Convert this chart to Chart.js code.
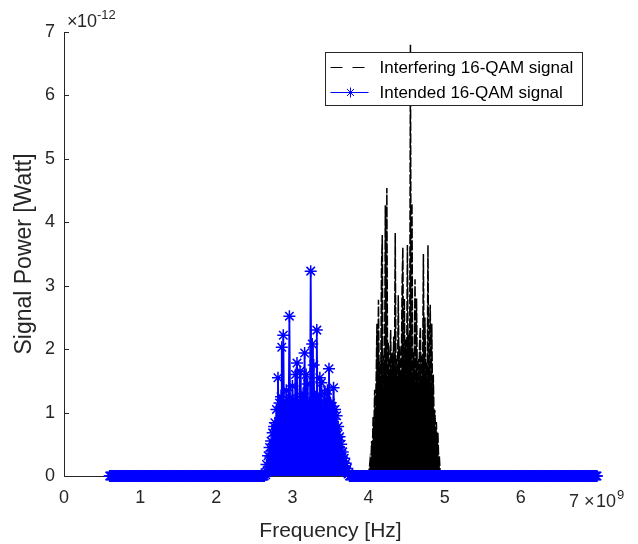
<!DOCTYPE html>
<html>
<head>
<meta charset="utf-8">
<script src="https://cdn.jsdelivr.net/npm/chart.js@4.4.1/dist/chart.umd.min.js"></script>
<style>
  html, body { margin: 0; padding: 0; background: #fff; }
</style>
</head>
<body>
<canvas id="chart-psd" width="638" height="544"></canvas>
<script>
// frequency axis in GHz (x 10^9 Hz), power in units of 10^-12 W
var xTicks = [0, 1, 2, 3, 4, 5, 6, 7];
var yTicks = [0, 1, 2, 3, 4, 5, 6, 7];
var seriesLabels = ['Interfering 16-QAM signal', 'Intended 16-QAM signal'];
var sampleStepGHz = 0.01;

// interfering signal, samples from 3.96 GHz
var interferingStartGHz = 3.96;
var interferingPower = [
  0, 0, 0, 0, 0.05, 0.12, 0.25, 0.15, 0.55, 0.4,
  0.93, 0.7, 1.36, 1.0, 1.55, 2.4, 1.3, 2.78, 1.4, 1.8,
  1.5, 3.3, 3.8, 1.35, 1.9, 1.45, 4.27, 1.6, 4.54, 1.4,
  2.1, 1.5, 1.75, 2.3, 1.35, 1.95, 1.6, 2.2, 1.45, 3.83,
  1.55, 1.85, 1.4, 2.85, 1.65, 2.05, 1.5, 1.7, 3.0, 3.6,
  1.5, 2.8, 1.45, 2.15, 1.6, 3.64, 1.5, 2.25, 1.7, 6.8,
  1.55, 4.3, 1.45, 1.95, 1.6, 3.1, 1.4, 2.8, 1.55, 1.85,
  1.35, 2.1, 2.35, 1.5, 1.9, 1.6, 3.5, 1.45, 2.5, 1.55,
  1.8, 1.4, 3.64, 1.5, 2.0, 2.7, 1.3, 2.4, 1.2, 1.6,
  0.9, 1.04, 0.7, 0.85, 0.5, 0.68, 0.3, 0.3, 0.05, 0, 0
];

// intended signal, samples from 0.60 GHz to 7.00 GHz
var intendedStartGHz = 0.6;
var intendedPower = [
  // 0.60 - 2.63 GHz
  0,0,0,0,0,0,0,0,0,0, 0,0,0,0,0,0,0,0,0,0,
  0,0,0,0,0,0,0,0,0,0, 0,0,0,0,0,0,0,0,0,0,
  0,0,0,0,0,0,0,0,0,0, 0,0,0,0,0,0,0,0,0,0,
  0,0,0,0,0,0,0,0,0,0, 0,0,0,0,0,0,0,0,0,0,
  0,0,0,0,0,0,0,0,0,0, 0,0,0,0,0,0,0,0,0,0,
  0,0,0,0,0,0,0,0,0,0, 0,0,0,0,0,0,0,0,0,0,
  0,0,0,0,0,0,0,0,0,0, 0,0,0,0,0,0,0,0,0,0,
  0,0,0,0,0,0,0,0,0,0, 0,0,0,0,0,0,0,0,0,0,
  0,0,0,0,0,0,0,0,0,0, 0,0,0,0,0,0,0,0,0,0,
  0,0,0,0,0,0,0,0,0,0, 0,0,0,0,0,0,0,0,0,0,
  0,0,0,0,
  // 2.64 - 3.74 GHz
  0.05, 0.02, 0.18, 0.06, 0.32, 0.15, 0.45, 0.3, 0.55, 0.4,
  0.68, 0.5, 0.78, 0.84, 0.7, 1.05, 0.75, 1.55, 0.85, 1.15,
  0.8, 1.25, 2.03, 0.9, 2.22, 0.95, 1.1, 0.85, 1.35, 1.0,
  1.2, 0.9, 2.52, 0.95, 1.15, 0.85, 1.42, 1.0, 1.2, 0.9,
  1.6, 0.95, 1.78, 0.85, 1.1, 1.0, 1.65, 0.9, 1.2, 0.8,
  1.3, 0.95, 1.94, 0.9, 1.6, 1.0, 1.45, 0.85, 1.15, 0.95,
  3.23, 0.9, 2.08, 1.0, 1.75, 0.85, 1.25, 0.95, 2.3, 0.9,
  1.2, 1.0, 1.55, 0.85, 1.47, 0.95, 1.1, 0.9, 1.3, 1.0,
  1.2, 0.85, 1.35, 0.95, 1.69, 0.9, 1.15, 1.0, 1.1, 0.85,
  1.39, 0.9, 1.05, 0.75, 0.95, 0.65, 0.78, 0.55, 0.62, 0.4,
  0.5, 0.3, 0.38, 0.22, 0.28, 0.15, 0.2, 0.08, 0.12, 0.03, 0.04,
  // 3.75 - 7.00 GHz
  0,0,0,0,0,0,0,0,0,0, 0,0,0,0,0,0,0,0,0,0,
  0,0,0,0,0,0,0,0,0,0, 0,0,0,0,0,0,0,0,0,0,
  0,0,0,0,0,0,0,0,0,0, 0,0,0,0,0,0,0,0,0,0,
  0,0,0,0,0,0,0,0,0,0, 0,0,0,0,0,0,0,0,0,0,
  0,0,0,0,0,0,0,0,0,0, 0,0,0,0,0,0,0,0,0,0,
  0,0,0,0,0,0,0,0,0,0, 0,0,0,0,0,0,0,0,0,0,
  0,0,0,0,0,0,0,0,0,0, 0,0,0,0,0,0,0,0,0,0,
  0,0,0,0,0,0,0,0,0,0, 0,0,0,0,0,0,0,0,0,0,
  0,0,0,0,0,0,0,0,0,0, 0,0,0,0,0,0,0,0,0,0,
  0,0,0,0,0,0,0,0,0,0, 0,0,0,0,0,0,0,0,0,0,
  0,0,0,0,0,0,0,0,0,0, 0,0,0,0,0,0,0,0,0,0,
  0,0,0,0,0,0,0,0,0,0, 0,0,0,0,0,0,0,0,0,0,
  0,0,0,0,0,0,0,0,0,0, 0,0,0,0,0,0,0,0,0,0,
  0,0,0,0,0,0,0,0,0,0, 0,0,0,0,0,0,0,0,0,0,
  0,0,0,0,0,0,0,0,0,0, 0,0,0,0,0,0,0,0,0,0,
  0,0,0,0,0,0,0,0,0,0, 0,0,0,0,0,0,0,0,0,0,
  0,0,0,0,0,0
];

function toPoints(startGHz, values) {
  return values.map(function(v, i) {
    return { x: Math.round((startGHz + i * sampleStepGHz) * 100) / 100, y: v };
  });
}

var axisInk = '#262626';
var fontFamily = "'Liberation Sans', Arial, Helvetica, sans-serif";

function drawStar(ctx, x, y, r) {
  var d = r * Math.SQRT1_2;
  ctx.beginPath();
  ctx.moveTo(x - r, y); ctx.lineTo(x + r, y);
  ctx.moveTo(x, y - r); ctx.lineTo(x, y + r);
  ctx.moveTo(x - d, y - d); ctx.lineTo(x + d, y + d);
  ctx.moveTo(x - d, y + d); ctx.lineTo(x + d, y - d);
  ctx.stroke();
}

var matlabAxes = {
  id: 'matlabAxes',
  beforeDatasetsDraw: function(chart) {
    var ctx = chart.ctx, xs = chart.scales.x, ys = chart.scales.y, a = chart.chartArea;
    ctx.save();
    ctx.strokeStyle = axisInk;
    ctx.lineWidth = 1;
    ctx.beginPath();
    ys.ticks.forEach(function(t) {
      var y = Math.round(ys.getPixelForValue(t.value)) + 0.5;
      ctx.moveTo(a.left, y); ctx.lineTo(a.left + 5, y);
    });
    xs.ticks.forEach(function(t) {
      var x = Math.round(xs.getPixelForValue(t.value)) + 0.5;
      ctx.moveTo(x, a.bottom); ctx.lineTo(x, a.bottom - 5);
    });
    ctx.stroke();
    ctx.restore();
  },
  afterDraw: function(chart) {
    var ctx = chart.ctx, xs = chart.scales.x, a = chart.chartArea;
    ctx.save();
    ctx.fillStyle = axisInk;
    ctx.textBaseline = 'alphabetic';
    ctx.textAlign = 'left';

    // x exponent label "7 x 10^9"
    var p7 = xs.getPixelForValue(7);
    ctx.font = '18px ' + fontFamily;
    ctx.fillText('7', p7 - 28, 507);
    ctx.fillText('\u00d7', p7 - 13, 507);
    ctx.fillText('10', p7 - 1, 507);
    ctx.font = '13px ' + fontFamily;
    ctx.fillText('9', p7 + 20, 499);

    // y exponent label "x 10^-12"
    ctx.font = '18px ' + fontFamily;
    ctx.fillText('\u00d7', a.left + 3, a.top - 5);
    ctx.fillText('10', a.left + 13, a.top - 5);
    ctx.font = '13px ' + fontFamily;
    ctx.fillText('-12', a.left + 33, a.top - 13);

    // legend box
    var bx = Math.round(a.right) - 272 + 0.5, by = Math.round(a.top) + 20 + 0.5;
    var bw = 257, bh = 53;
    ctx.fillStyle = '#ffffff';
    ctx.fillRect(bx, by, bw, bh);
    ctx.strokeStyle = axisInk;
    ctx.lineWidth = 1;
    ctx.strokeRect(bx, by, bw, bh);

    var ds = chart.data.datasets;
    ds.forEach(function(d, i) {
      var ry = by + 15 + i * 25;
      ctx.save();
      ctx.strokeStyle = d.borderColor;
      ctx.lineWidth = 1;
      if (d.borderDash) ctx.setLineDash([12, 10]);
      ctx.beginPath();
      ctx.moveTo(bx + 5, ry); ctx.lineTo(bx + 43, ry);
      ctx.stroke();
      ctx.setLineDash([]);
      if (d.pointRadius > 0) {
        ctx.lineWidth = 1;
        drawStar(ctx, bx + 25, ry, 5);
      }
      ctx.restore();
      ctx.fillStyle = '#000000';
      ctx.font = '17px ' + fontFamily;
      ctx.textBaseline = 'middle';
      ctx.fillText(d.label, bx + 54, ry + 1);
    });
    ctx.restore();
  }
};

var config = {
  type: 'line',
  data: {
    datasets: [{
      label: seriesLabels[0],
      data: toPoints(interferingStartGHz, interferingPower),
      borderColor: '#000000',
      backgroundColor: '#000000',
      fill: 'origin',
      borderWidth: 1.5,
      borderDash: [10, 2],
      pointRadius: 0,
      order: 2,
      clip: false
    }, {
      label: seriesLabels[1],
      data: toPoints(intendedStartGHz, intendedPower),
      borderColor: '#0000ff',
      backgroundColor: '#0000ff',
      fill: 'origin',
      borderWidth: 1.8,
      pointStyle: 'star',
      pointRadius: 6,
      pointBorderColor: '#0000ff',
      pointBorderWidth: 1.5,
      pointBackgroundColor: 'rgba(0,0,0,0)',
      order: 1,
      clip: false
    }]
  },
  options: {
    responsive: false,
    animation: false,
    events: [],
    elements: { line: { tension: 0 } },
    layout: { padding: { left: 0, top: 32, right: 41, bottom: 0 } },
    plugins: {
      legend: { display: false },
      tooltip: { enabled: false },
      filler: { propagate: false }
    },
    scales: {
      x: {
        type: 'linear',
        min: xTicks[0],
        max: xTicks[xTicks.length - 1],
        afterBuildTicks: function(s) { s.ticks = xTicks.map(function(v) { return { value: v }; }); },
        afterFit: function(s) { s.height = 68; },
        ticks: {
          autoSkip: false,
          maxRotation: 0,
          padding: 11,
          color: axisInk,
          font: { family: fontFamily, size: 18 },
          callback: function(v) { return v === 7 ? '' : String(v); }
        },
        grid: { display: true, drawOnChartArea: false, drawTicks: false },
        border: { display: true, color: axisInk, width: 1 },
        title: {
          display: true,
          text: 'Frequency [Hz]',
          color: axisInk,
          font: { family: fontFamily, size: 21 },
          padding: { top: 0, bottom: 0 }
        }
      },
      y: {
        min: yTicks[0],
        max: yTicks[yTicks.length - 1],
        afterBuildTicks: function(s) { s.ticks = yTicks.map(function(v) { return { value: v }; }); },
        afterFit: function(s) { s.width = 64; },
        ticks: {
          padding: 9,
          color: axisInk,
          font: { family: fontFamily, size: 18 },
          callback: function(v) { return String(v); }
        },
        grid: { display: true, drawOnChartArea: false, drawTicks: false },
        border: { display: true, color: axisInk, width: 1 },
        title: {
          display: true,
          text: 'Signal Power [Watt]',
          color: axisInk,
          font: { family: fontFamily, size: 23 },
          padding: { top: 11, bottom: 0 }
        }
      }
    }
  },
  plugins: [matlabAxes]
};

window.onload = function() {
  var ctx = document.getElementById('chart-psd').getContext('2d');
  window.psdChart = new Chart(ctx, config);
};
</script>
</body>
</html>
